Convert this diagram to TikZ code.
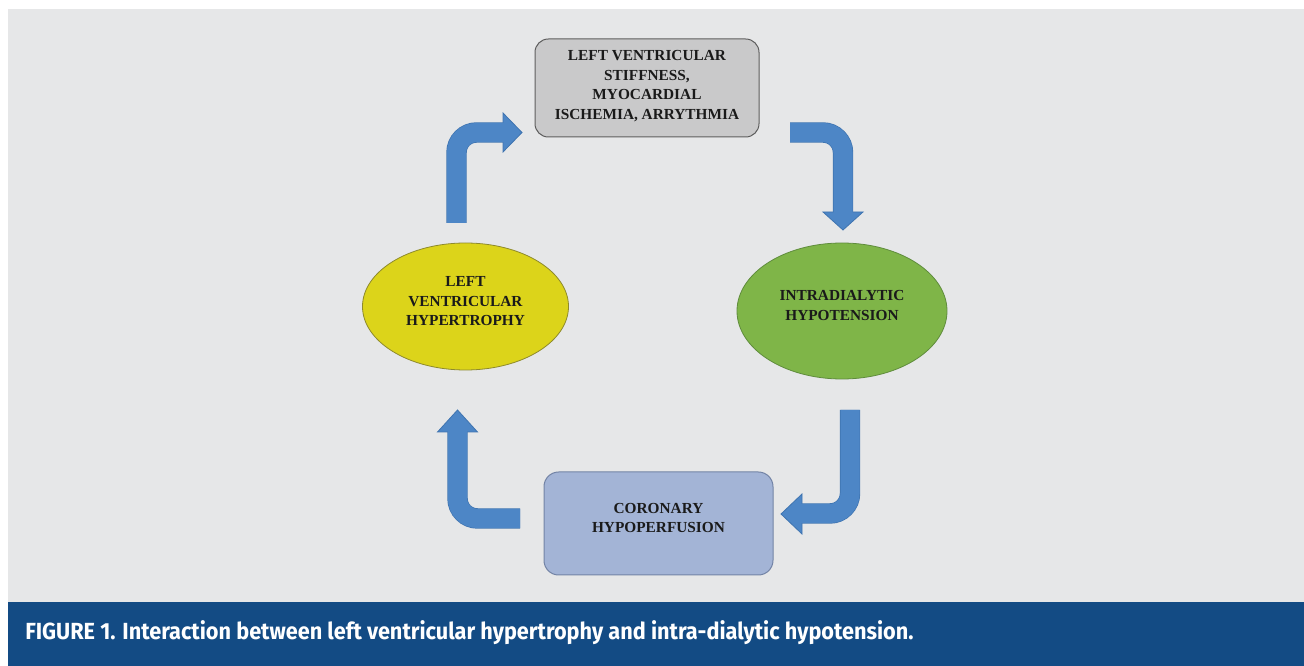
\documentclass[tikz,border=0pt]{standalone}
\usepackage{fontspec}
\setmainfont{Liberation Serif}
\newfontfamily\capfont[FakeStretch=0.93]{Fira Sans}
\usetikzlibrary{shapes.geometric}
\definecolor{bgpanel}{HTML}{E6E7E8}
\definecolor{capblue}{HTML}{134B84}
\definecolor{arrfill}{HTML}{4D86C6}
\definecolor{arrline}{HTML}{3F74B0}
\definecolor{topfill}{HTML}{C9C9CA}
\definecolor{topline}{HTML}{5E5E5E}
\definecolor{botfill}{HTML}{A3B4D6}
\definecolor{botline}{HTML}{7384A6}
\definecolor{yelfill}{HTML}{DCD41A}
\definecolor{yelline}{HTML}{8E8A2C}
\definecolor{grnfill}{HTML}{7FB548}
\definecolor{grnline}{HTML}{5F8C3C}
\definecolor{txt}{HTML}{1A1A1A}
\tikzset{
  shaftout/.style={line width=15.3pt, arrline, rounded corners=15pt},
  shaftin/.style={line width=14.25pt, arrfill, rounded corners=15pt},
  headtip/.style={fill=arrfill, draw=arrline, line width=0.6pt, line join=miter},
  lbl/.style={font=\bfseries\fontsize{11.5pt}{14.6pt}\selectfont, text=txt, align=center, inner sep=0pt},
}
\begin{document}
\begin{tikzpicture}[x=0.75pt, y=-0.75pt]
\useasboundingbox (0,0) rectangle (1304,666);
\fill[white] (0,0) rectangle (1304,666);
\fill[bgpanel] (8,9) rectangle (1304,602);
\fill[capblue] (8,602) rectangle (1304,666);
\node[anchor=west, text=white, inner sep=0pt, font=\capfont\bfseries\fontsize{17.5pt}{20pt}\selectfont] (cap) at (25,633) {FIGURE 1. Interaction between left ventricular hypertrophy and intra-dialytic hypotension.};

% shapes
\node[draw=topline, fill=topfill, line width=0.75pt, rounded corners=10pt, minimum width=168pt, minimum height=73.5pt, inner sep=0pt] (lvs) at (647,88) {};
\node[lbl] (lvs-t) at (647,86) {LEFT VENTRICULAR\\STIFFNESS,\\MYOCARDIAL\\ISCHEMIA, ARRYTHMIA};

\node[draw=grnline, fill=grnfill, line width=0.6pt, ellipse, minimum width=157.5pt, minimum height=102pt, inner sep=0pt] (idh) at (842,311) {};
\node[lbl] (idh-t) at (842,305.5) {INTRADIALYTIC\\HYPOTENSION};

\node[draw=botline, fill=botfill, line width=0.75pt, rounded corners=11pt, minimum width=171.75pt, minimum height=77.25pt, inner sep=0pt] (chp) at (658.5,523.5) {};
\node[lbl] (chp-t) at (658.5,518) {CORONARY\\HYPOPERFUSION};

\node[draw=yelline, fill=yelfill, line width=0.6pt, ellipse, minimum width=154.5pt, minimum height=95.25pt, inner sep=0pt] (lvh) at (465.5,306.5) {};
\node[lbl] (lvh-t) at (465.5,301.5) {LEFT\\VENTRICULAR\\HYPERTROPHY};

% arrow 1: LVH -> LV stiffness
\coordinate (a1s) at (456.5,223);
\coordinate (a1e) at (503,132.5);
\draw[shaftout] (a1s) |- (a1e);
\filldraw[headtip] (503,113) -- (522,132.5) -- (503,152) -- cycle;
\draw[shaftin] (a1s) |- ([xshift=1pt]a1e);

% arrow 2: LV stiffness -> IDH
\coordinate (a2s) at (790,132.5);
\coordinate (a2e) at (843,212);
\draw[shaftout] (a2s) -| (a2e);
\filldraw[headtip] (823,212) -- (843,230) -- (863,212) -- cycle;
\draw[shaftin] (a2s) -| ([yshift=-1pt]a2e);

% arrow 3: IDH -> coronary hypoperfusion
\coordinate (a3s) at (850,410);
\coordinate (a3e) at (802,513.5);
\draw[shaftout] (a3s) |- (a3e);
\filldraw[headtip] (802,494) -- (781,514) -- (802,534) -- cycle;
\draw[shaftin] (a3s) |- ([xshift=-1pt]a3e);

% arrow 4: coronary hypoperfusion -> LVH
\coordinate (a4s) at (520,518.5);
\coordinate (a4e) at (457.5,432);
\draw[shaftout] (a4s) -| (a4e);
\filldraw[headtip] (437.5,432) -- (457.5,410) -- (477.5,432) -- cycle;
\draw[shaftin] (a4s) -| ([yshift=1pt]a4e);
\end{tikzpicture}
\end{document}
